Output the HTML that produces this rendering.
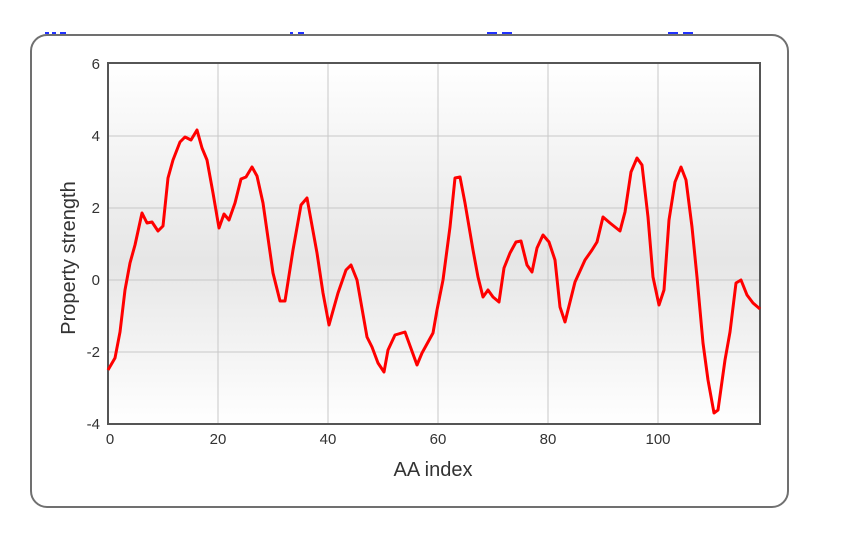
<!DOCTYPE html>
<html><head><meta charset="utf-8"><style>
html,body{margin:0;padding:0;background:#fff;}
svg{display:block;font-family:"Liberation Sans",Arial,sans-serif;}
</style></head><body>
<svg width="865" height="538" viewBox="0 0 865 538">
<defs>
<linearGradient id="bg" x1="0" y1="0" x2="0" y2="1">
<stop offset="0" stop-color="#ffffff"/>
<stop offset="0.55" stop-color="#e6e6e6"/>
<stop offset="1" stop-color="#ffffff"/>
</linearGradient>
</defs>
<g fill="#2233ff">
<rect x="45" y="32" width="4" height="2"/><rect x="52" y="32" width="4" height="2"/><rect x="60" y="32" width="6" height="2"/>
<rect x="290" y="32" width="3" height="2"/><rect x="298" y="32" width="6" height="2"/>
<rect x="487" y="32" width="10" height="2"/><rect x="502" y="32" width="10" height="2"/>
<rect x="668" y="32" width="10" height="2"/><rect x="683" y="32" width="10" height="2"/>
</g>
<rect x="31" y="35" width="757" height="472" rx="16" fill="#fff" stroke="#707070" stroke-width="2"/>
<rect x="108" y="63" width="652" height="361" fill="url(#bg)"/>
<g stroke="#c8c8c8" stroke-width="1">
<line x1="218" y1="63" x2="218" y2="424"/><line x1="328" y1="63" x2="328" y2="424"/>
<line x1="438" y1="63" x2="438" y2="424"/><line x1="548" y1="63" x2="548" y2="424"/>
<line x1="658" y1="63" x2="658" y2="424"/>
<line x1="108" y1="136" x2="760" y2="136"/><line x1="108" y1="208" x2="760" y2="208"/>
<line x1="108" y1="280" x2="760" y2="280"/><line x1="108" y1="352" x2="760" y2="352"/>
</g>
<rect x="108" y="63" width="652" height="361" fill="none" stroke="#555" stroke-width="2"/>
<polyline fill="none" stroke="#ff0000" stroke-width="3" stroke-linejoin="round" points="108,370 115,358 120,332 125,290 130,263 135,245 142,213 147,223 152,222 158,231 163,226 168,178 173,160 180,142 185,137 191,140 197,130 202,148 207,160 213,193 219,228 224,214 229,220 235,203 241,179 246,177 252,167 257,176 263,203 273,273 280,301 285,301 293,250 301,205 307,198 317,253 323,293 329,325 338,293 346,270 351,265 357,280 367,337 372,347 378,363 384,372 388,350 395,335 405,332 417,365 422,353 433,333 437,310 443,280 450,227 455,178 460,177 465,203 473,250 478,277 483,297 488,290 493,297 499,302 504,268 510,253 516,242 521,241 527,265 532,272 537,248 543,235 549,242 555,260 560,307 565,322 575,282 585,260 592,250 597,242 603,217 610,223 620,231 625,212 631,172 637,158 642,165 648,217 653,277 659,305 664,290 669,220 675,182 681,167 686,180 692,227 697,277 703,343 708,380 714,413 718,410 725,360 730,332 736,283 741,280 747,295 753,303 760,309"/>
<g font-size="15" fill="#333" text-anchor="end">
<text x="100" y="69">6</text><text x="100" y="141">4</text><text x="100" y="213">2</text>
<text x="100" y="285">0</text><text x="100" y="357">-2</text><text x="100" y="429">-4</text>
</g>
<g font-size="15" fill="#333" text-anchor="middle">
<text x="110" y="444">0</text><text x="218" y="444">20</text><text x="328" y="444">40</text>
<text x="438" y="444">60</text><text x="548" y="444">80</text><text x="658" y="444">100</text>
</g>
<text x="433" y="476" font-size="20" fill="#333" text-anchor="middle">AA index</text>
<text transform="translate(75,258) rotate(-90)" font-size="20" fill="#333" text-anchor="middle">Property strength</text>
</svg>
</body></html>
